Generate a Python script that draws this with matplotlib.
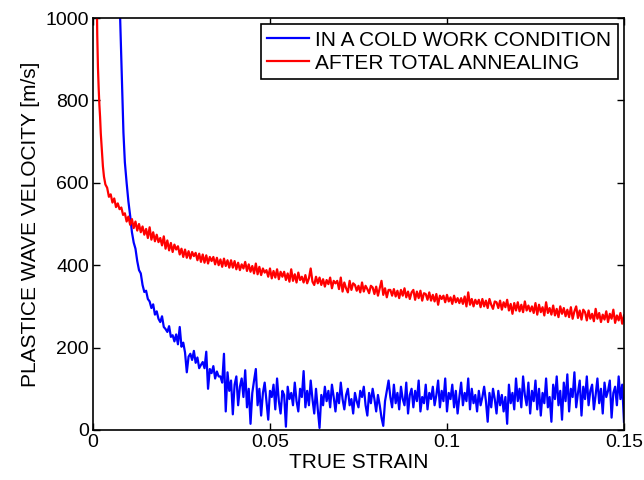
import numpy as np
import matplotlib
matplotlib.use("Agg")
import matplotlib.pyplot as plt

plt.rcParams['font.family'] = ['Liberation Sans', 'DejaVu Sans']

# red curve: after total annealing
red_head_strain = [0.0010, 0.0012, 0.0014, 0.0016, 0.0018, 0.0020, 0.0022, 0.0025, 0.0028, 0.0031, 0.0035]
red_head_v = [1100, 960, 880, 830, 790, 760, 720, 680, 640, 615, 596]
red_start, red_step = 0.0040, 0.0005
red_v = [
    588, 566, 572, 552, 562, 541, 550, 536, 540, 522,
    526, 506, 518, 498, 512, 490, 506, 484, 500, 480,
    494, 474, 488, 466, 492, 462, 480, 458, 474, 456,
    466, 448, 470, 440, 460, 436, 454, 432, 450, 438,
    446, 426, 440, 420, 438, 418, 434, 416, 432, 422,
    430, 412, 428, 408, 426, 406, 424, 404, 420, 410,
    420, 402, 418, 400, 414, 396, 416, 398, 412, 394,
    412, 394, 410, 390, 406, 388, 402, 392, 408, 386,
    402, 384, 398, 380, 404, 378, 396, 376, 392, 382,
    388, 372, 392, 368, 386, 370, 390, 366, 384, 372,
    384, 364, 380, 360, 390, 362, 378, 358, 382, 364,
    372, 358, 376, 356, 368, 392, 360, 352, 372, 356,
    370, 352, 366, 348, 364, 354, 370, 344, 362, 356,
    362, 342, 370, 336, 358, 344, 334, 362, 340, 356,
    352, 338, 350, 334, 358, 336, 350, 342, 332, 350,
    346, 330, 348, 326, 344, 362, 328, 344, 322, 340,
    340, 326, 342, 324, 338, 320, 340, 326, 344, 322,
    336, 318, 334, 340, 316, 336, 320, 338, 314, 332,
    330, 316, 334, 314, 328, 312, 330, 304, 326, 318,
    326, 310, 328, 312, 322, 306, 326, 310, 320, 308,
    320, 306, 324, 300, 334, 304, 318, 300, 316, 306,
    316, 298, 318, 300, 314, 296, 318, 304, 294, 312,
    310, 296, 314, 292, 310, 298, 316, 290, 306, 282,
    308, 290, 310, 288, 304, 286, 312, 290, 302, 288,
    300, 284, 308, 280, 304, 286, 298, 278, 310, 284,
    296, 280, 302, 278, 294, 274, 300, 282, 296, 276,
    292, 274, 298, 270, 288, 300, 272, 290, 268, 292,
    286, 266, 290, 270, 282, 264, 294, 270, 284, 262,
    280, 268, 288, 262, 282, 270, 292, 260, 278, 266,
    284, 258, 278,
]

# blue curve: in a cold work condition
blue_head_strain = [0.0070, 0.0074, 0.0078, 0.0082, 0.0086, 0.0090, 0.0095, 0.0100, 0.0105]
blue_head_v = [1250, 1080, 960, 840, 722, 650, 600, 555, 520]
blue_start, blue_step = 0.0110, 0.0005
blue_v = [
    480, 455, 440, 410, 388, 380, 352, 335, 338, 318,
    312, 296, 305, 280, 288, 270, 262, 276, 250, 245,
    238, 252, 226, 230, 215, 232, 208, 250, 202, 212,
    188, 140, 178, 185, 170, 192, 163, 176, 150, 158,
    165, 150, 190, 100, 148, 138, 155, 125, 142, 130,
    130, 115, 185, 45, 140, 95, 120, 38, 110, 130,
    60, 105, 125, 80, 145, 55, 100, 15, 90, 120,
    148, 60, 100, 35, 90, 115, 70, 25, 95, 80,
    110, 50, 125, 70, 40, 95, 85, 8, 105, 75,
    90, 60, 115, 70, 45, 100, 80, 143, 55, 95,
    60, 120, 75, 40, 100, 50, 5, 85, 60, 105,
    70, 95, 55, 110, 80, 45, 90, 65, 115, 75,
    50, 85, 100, 60, 75, 40, 90, 70, 55, 95,
    80, 105, 60, 35, 90, 65, 100, 75, 45, 85,
    60, 30, 10, 70, 95, 120, 80, 55, 110, 65,
    90, 50, 105, 75, 60, 115, 40, 85, 100, 55,
    95, 70, 120, 45, 80, 65, 110, 50, 90, 75,
    105, 60, 85, 120, 55, 95, 70, 125, 45, 90,
    75, 110, 55, 95, 40, 80, 115, 60, 90, 70,
    125, 50, 100, 65, 85, 45, 95, 60, 80, 105,
    70, 20, 90, 55, 100, 75, 40, 95, 60, 85,
    45, 80, 15, 110, 65, 90, 50, 125, 70, 100,
    55, 130, 85, 60, 115, 40, 95, 70, 120, 50,
    100, 35, 90, 65, 125, 55, 80, 20, 110, 75,
    130, 60, 95, 25, 115, 70, 135, 45, 100, 80,
    140, 55, 90, 120, 35, 105, 75, 130, 60, 95,
    110, 50, 85, 125, 65, 100, 40, 115, 80, 95,
    120, 30, 90, 105, 60, 130, 75, 110, 20,
]

x_ticks = [0, 0.05, 0.1, 0.15]
x_tick_labels = ['0', '0.05', '0.1', '0.15']
y_ticks = [0, 200, 400, 600, 800, 1000]

red_x = np.concatenate([red_head_strain, red_start + red_step * np.arange(len(red_v))])
red_y = np.concatenate([red_head_v, red_v])
blue_x = np.concatenate([blue_head_strain, blue_start + blue_step * np.arange(len(blue_v))])
blue_y = np.concatenate([blue_head_v, blue_v])

fig = plt.figure(figsize=(6.44, 4.8), dpi=100)
ax = fig.add_axes([0.1444, 0.1042, 0.8245, 0.8583])

ax.plot(blue_x, blue_y, color='#0000ff', lw=1.6, label='IN A COLD WORK CONDITION')
ax.plot(red_x, red_y, color='#ff0000', lw=1.6, label='AFTER TOTAL ANNEALING')

ax.set_xlim(0, 0.15)
ax.set_ylim(0, 1000)
ax.set_xticks(x_ticks)
ax.set_xticklabels(x_tick_labels)
ax.set_yticks(y_ticks)
ax.tick_params(direction='in', length=5, width=1, top=True, right=True, labelsize=14, pad=3)
for s in ax.spines.values():
    s.set_linewidth(1.2)

ax.set_xlabel('TRUE STRAIN', fontsize=15, labelpad=1)
ax.set_ylabel('PLASTICE WAVE VELOCITY [m/s]', fontsize=15, labelpad=4)

leg = ax.legend(loc='upper right', fontsize=15, fancybox=False, framealpha=1,
                edgecolor='black', handlelength=2.0, borderaxespad=0.3,
                labelspacing=0.2, handletextpad=0.3, borderpad=0.3)
leg.get_frame().set_linewidth(1.2)

fig.savefig('out.png', dpi=100)
